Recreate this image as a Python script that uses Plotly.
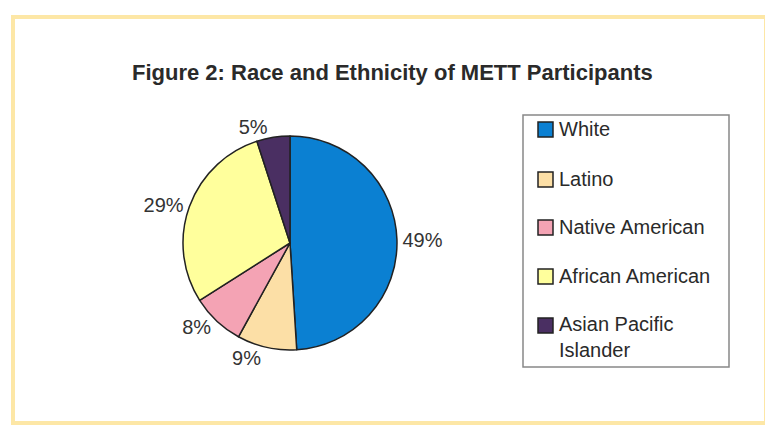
import plotly.graph_objects as go

categories = ["White", "Latino", "Native American", "African American", "Asian Pacific<br>Islander"]
values = [49, 9, 8, 29, 5]
pct_labels = ["49%", "9%", "8%", "29%", "5%"]
colors = ["#0B80D2", "#FCDFA6", "#F4A3B4", "#FFFF9C", "#4A2F62"]

W, H = 765, 428
cx, cy, r = 290, 243, 107

fig = go.Figure()
fig.add_trace(go.Pie(
    labels=categories,
    values=values,
    text=pct_labels,
    textinfo="text",
    textposition="outside",
    sort=False,
    direction="clockwise",
    rotation=0,
    marker=dict(colors=colors, line=dict(color="#222222", width=1.5)),
    textfont=dict(family="Liberation Sans, Arial", size=20, color="#333333"),
    domain=dict(x=[(cx - r) / W, (cx + r) / W], y=[1 - (cy + r) / H, 1 - (cy - r) / H]),
    showlegend=False,
    hoverinfo="label+percent",
))

shapes = []
annotations = []

# outer yellow frame
shapes.append(dict(type="rect", xref="paper", yref="paper",
                   x0=13 / W, x1=766 / W, y0=1 - 423 / H, y1=1 - 17 / H,
                   line=dict(color="#FDE7A6", width=4), fillcolor="rgba(0,0,0,0)"))

# legend box
shapes.append(dict(type="rect", xref="paper", yref="paper",
                   x0=523 / W, x1=729 / W, y0=1 - 367 / H, y1=1 - 115 / H,
                   line=dict(color="#888888", width=1.5), fillcolor="white"))

legend_y = [129, 179, 227, 276, 337]
for i, (lab, col) in enumerate(zip(categories, colors)):
    y = legend_y[i] if i < 4 else 325
    shapes.append(dict(type="rect", xref="paper", yref="paper",
                       x0=538 / W, x1=553 / W, y0=1 - (y + 8) / H, y1=1 - (y - 7) / H,
                       line=dict(color="#222222", width=1.5), fillcolor=col))
    annotations.append(dict(xref="paper", yref="paper", x=557 / W, y=1 - legend_y[i] / H,
                            text=lab, showarrow=False, xanchor="left", yanchor="middle",
                            align="left",
                            font=dict(family="Liberation Sans, Arial", size=20, color="#2a2a2a")))

annotations.append(dict(xref="paper", yref="paper", x=393 / W, y=1 - 73 / H,
                        text="<b>Figure 2: Race and Ethnicity of METT Participants</b>",
                        showarrow=False, xanchor="center", yanchor="middle",
                        font=dict(family="Liberation Sans, Arial", size=22, color="#2a2a2a")))

fig.update_layout(
    width=W, height=H,
    margin=dict(l=0, r=0, t=0, b=0),
    paper_bgcolor="white",
    plot_bgcolor="white",
    shapes=shapes,
    annotations=annotations,
    showlegend=False,
)

fig.write_html("out.html")
